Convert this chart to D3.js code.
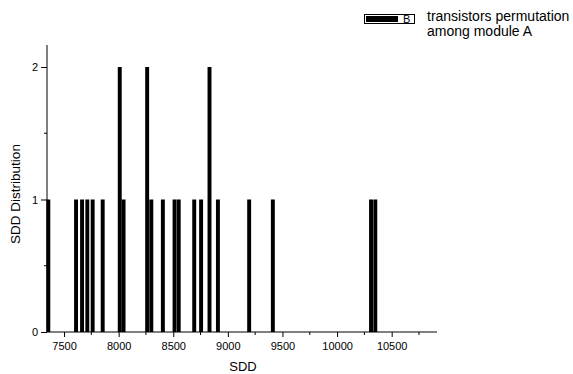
<!DOCTYPE html>
<html>
<head>
<meta charset="utf-8">
<script src="https://cdn.jsdelivr.net/npm/d3@7"></script>
<style>
  html, body { margin: 0; padding: 0; background: #fff; }
  svg { display: block; font-family: Arial, "Liberation Sans", sans-serif; }
</style>
</head>
<body>
<svg id="chart" width="573" height="374"></svg>
<script>
// SDD value (bin centre) and how many permutations fall in that bin
const sddValues = [7356, 7610, 7665, 7713, 7762, 7854, 8010, 8045, 8261, 8299, 8405,
                   8512, 8550, 8692, 8755, 8832, 8909, 9195, 9412, 10311, 10350];
const counts    = [1, 1, 1, 1, 1, 1, 2, 1, 2, 1, 1,
                   1, 1, 1, 1, 2, 1, 1, 1, 1, 1];
const binWidth = 36;

const xMajorTicks = [7500, 8000, 8500, 9000, 9500, 10000, 10500];
const xMinorTicks = [7750, 8250, 8750, 9250, 9750, 10250, 10750];
const yMajorTicks = [0, 1, 2];
const yMinorTicks = [0.5, 1.5];

const legendKey = "B";
const legendLines = ["transistors permutation", "among module A"];
const xTitle = "SDD";
const yTitle = "SDD Distribution";

const svg = d3.select("#chart");
const plotLeft = 47, plotRight = 437, plotTop = 45, plotBottom = 332;

const x = d3.scaleLinear().domain([7344, 10915]).range([plotLeft, plotRight]);
const y = d3.scaleLinear().domain([0, 2.166]).range([plotBottom, plotTop]);

// bars
svg.append("g").selectAll("rect")
  .data(sddValues.map((v, i) => ({ v, c: counts[i] })))
  .join("rect")
  .attr("x", d => x(d.v - binWidth / 2))
  .attr("width", d => x(d.v + binWidth / 2) - x(d.v - binWidth / 2))
  .attr("y", d => y(d.c))
  .attr("height", d => y(0) - y(d.c))
  .attr("fill", "#000");

// x axis
const gx = svg.append("g").attr("transform", `translate(0,${plotBottom})`);
gx.call(d3.axisBottom(x).tickValues(xMajorTicks).tickSize(5).tickSizeOuter(0).tickFormat(d3.format("d")));
gx.append("g").selectAll("line").data(xMinorTicks).join("line")
  .attr("x1", d => x(d)).attr("x2", d => x(d))
  .attr("y1", 0).attr("y2", 3).attr("stroke", "#000");
gx.select(".domain").attr("d", `M${plotLeft},0H${plotRight}`);
gx.selectAll(".tick text").attr("font-size", 11).attr("dy", "0.95em").attr("fill", "#000")
  .attr("font-family", "Arial, 'Liberation Sans', sans-serif");

// y axis
const gy = svg.append("g").attr("transform", `translate(${plotLeft},0)`);
gy.call(d3.axisLeft(y).tickValues(yMajorTicks).tickSize(6).tickSizeOuter(0).tickFormat(d3.format("d")));
gy.append("g").selectAll("line").data(yMinorTicks).join("line")
  .attr("x1", 0).attr("x2", -3)
  .attr("y1", d => y(d)).attr("y2", d => y(d)).attr("stroke", "#000");
gy.select(".domain").attr("d", `M0,${plotBottom}V${plotTop}`);
gy.selectAll(".tick text").attr("font-size", 11).attr("x", -9).attr("fill", "#000")
  .attr("font-family", "Arial, 'Liberation Sans', sans-serif");

// axis titles
svg.append("text").attr("x", 243).attr("y", 371).attr("text-anchor", "middle")
  .attr("font-size", 13).text(xTitle);
svg.append("text").attr("transform", "translate(20,194) rotate(-90)")
  .attr("text-anchor", "middle").attr("font-size", 13.5).text(yTitle);

// legend
const lg = svg.append("g");
lg.append("rect").attr("x", 364.5).attr("y", 14.5).attr("width", 50).attr("height", 9)
  .attr("fill", "#fff").attr("stroke", "#000").attr("stroke-width", 1);
lg.append("rect").attr("x", 366).attr("y", 16).attr("width", 32).attr("height", 6).attr("fill", "#000");
lg.append("text").attr("x", 403).attr("y", 23).attr("font-size", 11).text(legendKey);
lg.selectAll("text.line").data(legendLines).join("text").attr("class", "line")
  .attr("x", 427).attr("y", (d, i) => 20.5 + i * 15.5).attr("font-size", 14).text(d => d);
</script>
</body>
</html>
